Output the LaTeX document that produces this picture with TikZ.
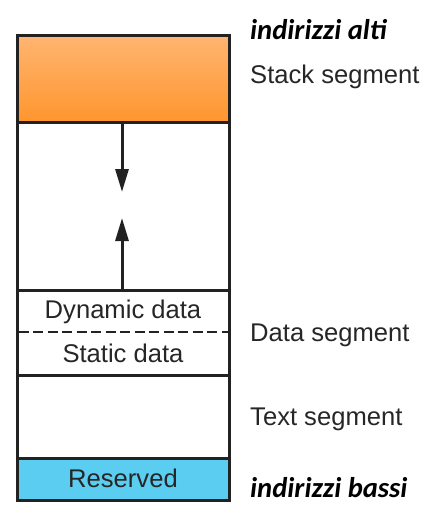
\documentclass[tikz,border=0pt]{standalone}
\usepackage{fontspec}
\setmainfont{Liberation Sans}
\newfontfamily\calfont{Carlito}
\usetikzlibrary{arrows.meta}
\definecolor{txtgray}{HTML}{262626}
\definecolor{orangetop}{HTML}{FFB571}
\definecolor{orangebot}{HTML}{FF952E}
\definecolor{resblue}{HTML}{5BCDF0}
\definecolor{edgegray}{HTML}{222222}
\begin{document}
\begin{tikzpicture}[x=1pt,y=-1pt,
  seg/.style={draw=edgegray,line width=3pt},
  lbl/.style={anchor=base west,inner sep=0pt,text=txtgray,font=\fontsize{25.6}{30}\selectfont},
  inlbl/.style={anchor=base,inner sep=0pt,text=txtgray,font=\fontsize{25.6}{30}\selectfont},
  addr/.style={anchor=base west,inner sep=0pt,text=black,font=\calfont\bfseries\itshape\fontsize{28.6}{32}\selectfont},
  growarrow/.style={draw=edgegray,line width=3pt,-{Triangle[length=23pt,width=13pt]}}]
\useasboundingbox (0,0) rectangle (431,508);
% segments
\shade[top color=orangetop,bottom color=orangebot] (17,35.5) rectangle (229,122.5);
\fill[resblue] (17,458.5) rectangle (229,500);
\draw[seg] (17,35.5) rectangle (229,122.5);
\draw[seg] (17,122.5) rectangle (229,290.5);
\draw[seg] (17,290.5) rectangle (229,375);
\draw[seg] (17,375) rectangle (229,458.5);
\draw[seg] (17,458.5) rectangle (229,500);
\draw[edgegray,line width=1.3pt,dash pattern=on 10pt off 4.5pt] (18.5,332) -- (227.5,332);
% arrows
\coordinate (stackbot) at (122,122.5);
\coordinate (downtip) at (122,192);
\coordinate (heaptop) at (122,290.5);
\coordinate (uptip) at (122,218);
\draw[growarrow] (stackbot) -- (downtip);
\draw[growarrow] (heaptop) -- (uptip);
% in-box labels
\node[inlbl] (dyn) at (123,318) {Dynamic data};
\node[inlbl] (stat) at (123,362.7) {Static data};
\node[inlbl] (res) at (123,487) {Reserved};
% side labels
\node[addr] (alti) at (250,40) {indirizzi alti};
\node[lbl] (stack) at (250,84) {Stack segment};
\node[lbl] (data) at (250,341.7) {Data segment};
\node[lbl] (text) at (250,425) {Text segment};
\node[addr] (bassi) at (250,497) {indirizzi bassi};
\end{tikzpicture}
\end{document}
